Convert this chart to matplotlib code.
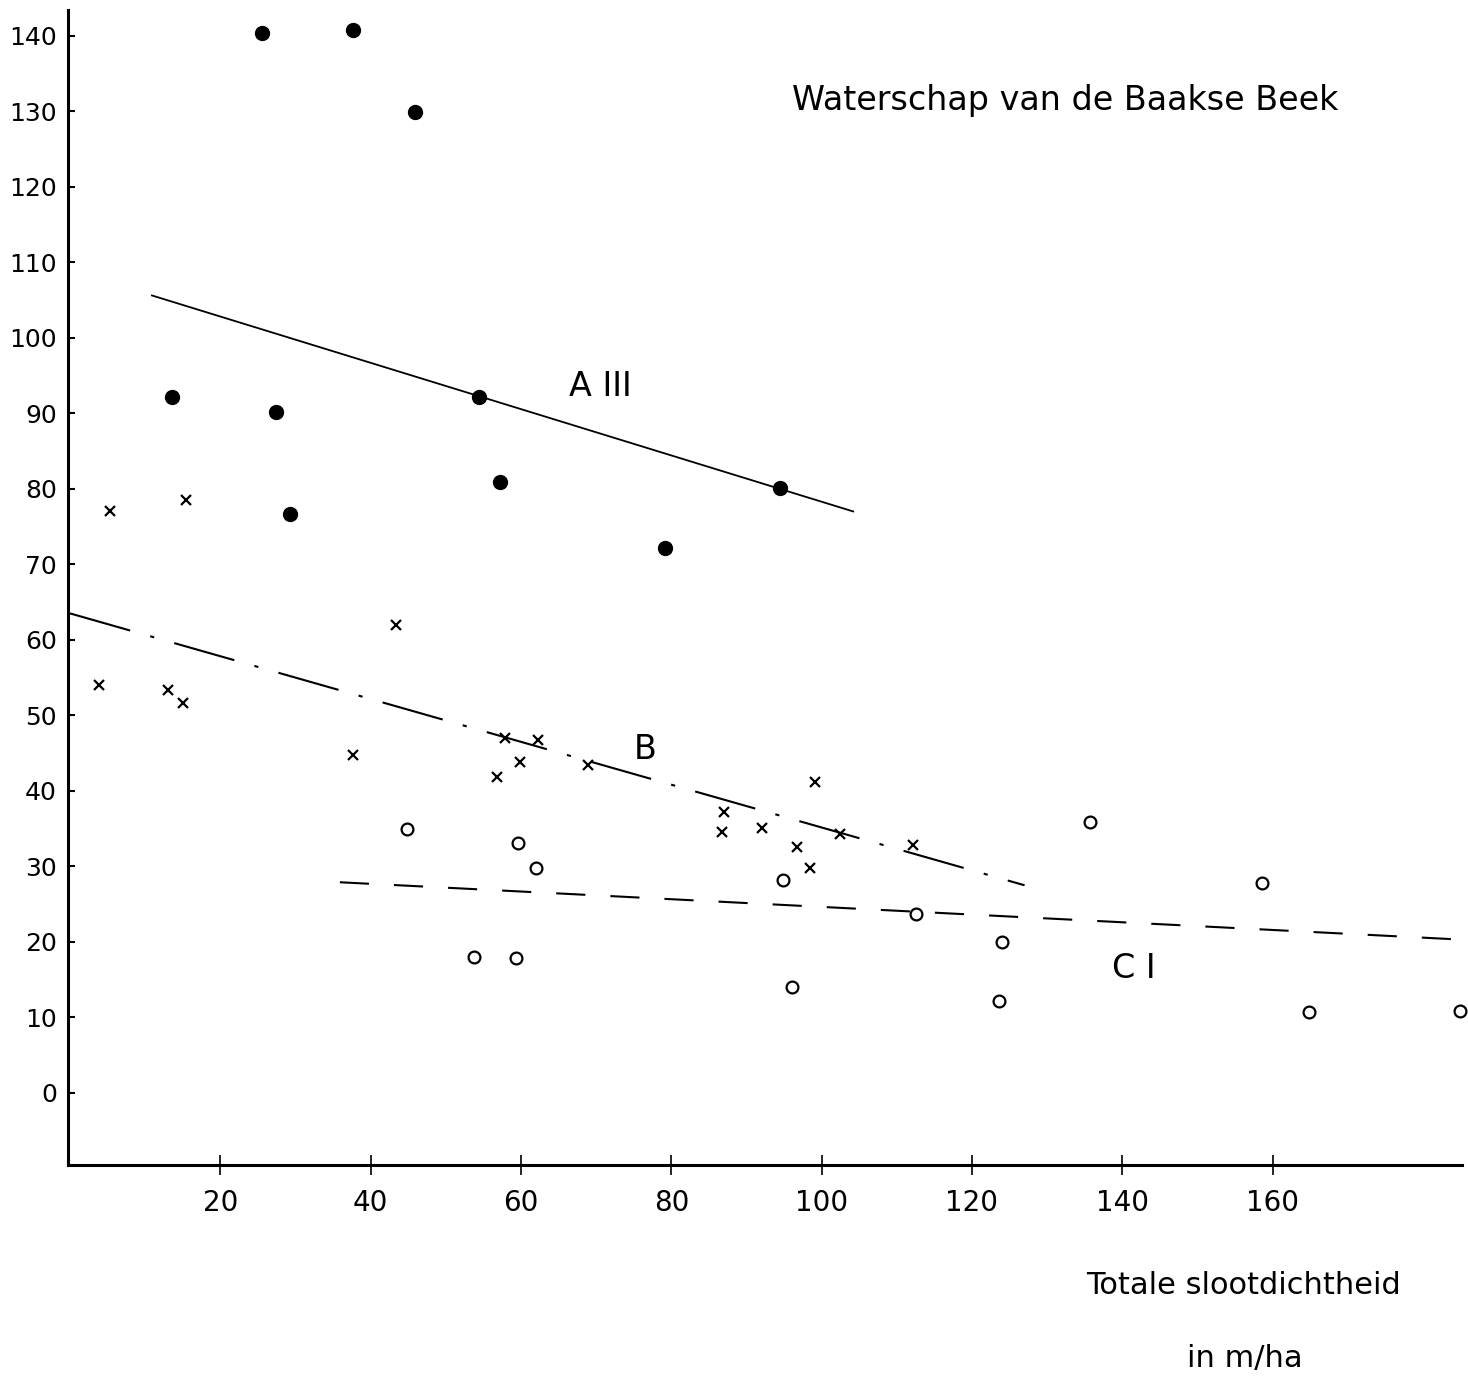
import matplotlib
matplotlib.use("Agg")
import matplotlib.pyplot as plt

# --- Data ---
# A III : filled dots
a_x = [25.6, 37.7, 45.9, 13.6, 27.4, 29.3, 54.4, 57.2, 79.1, 94.5]
a_y = [140.4, 140.7, 129.9, 92.2, 90.2, 76.6, 92.2, 80.9, 72.2, 80.1]
# B : crosses
b_x = [5.3, 15.4, 3.9, 13.0, 15.0, 43.4, 37.7, 57.9, 62.3, 56.8, 59.9, 68.9,
       87.0, 86.8, 92.1, 99.1, 96.7, 98.5, 102.5, 112.2]
b_y = [77.0, 78.5, 54.0, 53.4, 51.7, 61.9, 44.8, 47.0, 46.8, 41.9, 43.8, 43.4,
       37.2, 34.6, 35.1, 41.2, 32.6, 29.8, 34.3, 32.8]
# C I : open circles
c_x = [44.8, 59.6, 62.0, 53.8, 59.4, 94.9, 96.0, 112.6, 124.0, 123.6, 135.7,
       158.6, 164.8, 185.0]
c_y = [35.0, 33.1, 29.8, 18.0, 17.9, 28.2, 14.0, 23.7, 20.0, 12.2, 35.9,
       27.8, 10.7, 10.9]

# trend lines (end points)
line_a_x = [10.9, 104.2]
line_a_y = [105.6, 77.0]
line_b_x = [0.0, 127.0]
line_b_y = [63.5, 27.5]
line_c_x = [35.9, 185.2]
line_c_y = [27.9, 20.3]

x_ticks = [20, 40, 60, 80, 100, 120, 140, 160]
y_ticks = [0, 10, 20, 30, 40, 50, 60, 70, 80, 90, 100, 110, 120, 130, 140]

title_text = "Waterschap van de Baakse Beek"
xlabel_1 = "Totale slootdichtheid"
xlabel_2 = "in m/ha"

# --- Figure ---
W, H = 1468, 1383
fig = plt.figure(figsize=(W / 100, H / 100), dpi=100)
ax = fig.add_axes([68 / W, 1 - 1165 / H, (1462 - 68) / W, (1165 - 10) / H])
ax.set_xlim(-0.27, 185.2)
ax.set_ylim(-9.54, 143.4)

ax.plot(a_x, a_y, 'o', color='black', markersize=10, clip_on=False)
ax.plot(b_x, b_y, 'x', color='black', markersize=7, markeredgewidth=1.6, clip_on=False)
ax.plot(c_x, c_y, 'o', markerfacecolor='none', markeredgecolor='black',
        markersize=8.5, markeredgewidth=1.6, clip_on=False)

ax.plot(line_a_x, line_a_y, '-', color='black', linewidth=1.3)
ax.plot(line_b_x, line_b_y, color='black', linewidth=1.5, dashes=(30, 10, 2, 10))
ax.plot(line_c_x, line_c_y, color='black', linewidth=1.5, dashes=(14, 12))

for s in ['top', 'right']:
    ax.spines[s].set_visible(False)
for s in ['left', 'bottom']:
    ax.spines[s].set_linewidth(2.2)

ax.set_xticks(x_ticks)
ax.set_yticks(y_ticks)
ax.tick_params(axis='y', direction='in', length=5, width=1.5, labelsize=18, pad=8)
ax.tick_params(axis='x', direction='inout', length=14, width=1.2, labelsize=20, pad=10)

ax.text((1065 - 68) / 1394, 0.922, title_text, transform=ax.transAxes, fontsize=24,
        ha='center', va='center')
ax.text(70.5, 93.5, "A III", fontsize=24, ha='center', va='center')
ax.text(76.5, 45.5, "B", fontsize=24, ha='center', va='center')
ax.text(141.5, 16.5, "C I", fontsize=24, ha='center', va='center')

fig.text(1243 / W, 1 - 1285 / H, xlabel_1, fontsize=22, ha='center', va='center')
fig.text(1245 / W, 1 - 1358 / H, xlabel_2, fontsize=22, ha='center', va='center')

fig.savefig("out.png", dpi=100, facecolor='white')
